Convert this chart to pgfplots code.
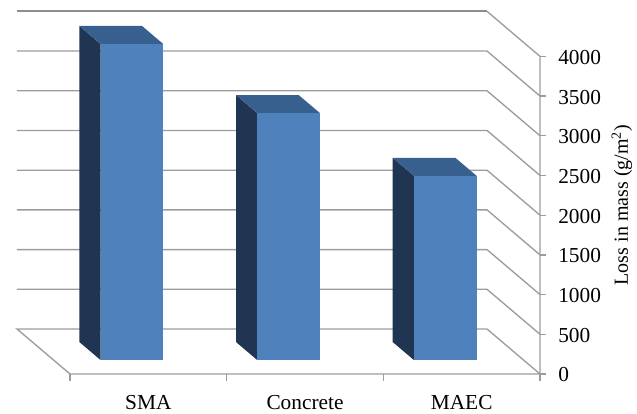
\documentclass[border=0pt]{standalone}
\usepackage{fontspec}
\setmainfont{Liberation Serif}
\usepackage{pgfplots}
\pgfplotsset{compat=1.18}
\definecolor{gridgrey}{HTML}{9C9C9C}
\definecolor{barfront}{HTML}{4F81BD}
\definecolor{bartop}{HTML}{38608F}
\definecolor{barside}{HTML}{1F3552}
\begin{document}
\begin{tikzpicture}[x=0.75pt,y=0.75pt]
\path[use as bounding box] (-70,-40) rectangle (567,374);
\begin{axis}[
  at={(0,0)}, anchor=origin,
  x={(117.5pt,0pt)},
  y={(-39.75pt,33.75pt)},
  z={(0pt,0.05955pt)},
  xmin=0, xmax=3.04, ymin=0, ymax=1, zmin=-90, zmax=4000,
  hide axis, clip=false,
  every axis plot/.append style={mark=none},
]
% back wall and right wall gridlines
\pgfplotsinvokeforeach{500,1000,1500,2000,2500,3000,3500}{
  \addplot3[gridgrey, line width=1pt] coordinates {(0,1,#1) (3,1,#1) (3,0,#1)};
}
\addplot3[gridgrey!90!black, line width=1.3pt] coordinates {(0,1,4000) (3,1,4000)};
\addplot3[gridgrey, line width=1pt] coordinates {(3,1,4000) (3,0,4000)};
% floor outline and vertical axis
\addplot3[gridgrey, line width=1pt] coordinates {(3,0,4000) (3,0,0) (0,0,0) (0,1,0) (3,1,0) (3,0,0)};
% value-axis ticks and labels
\pgfplotsinvokeforeach{0,500,1000,1500,2000,2500,3000,3500,4000}{
  \addplot3[gridgrey, line width=1pt] coordinates {(3,0,#1) (3.04,0,#1)};
  \node[anchor=west, inner sep=0pt, yshift=-0.75pt, font=\fontsize{16}{16}\selectfont] at (axis cs:3.115,0,#1) {#1};
}
% category ticks
\pgfplotsinvokeforeach{0,1,2,3}{
  \addplot3[gridgrey, line width=1pt] coordinates {(#1,0,0) (#1,0,-88)};
}
% bars: SMA 3980, Concrete 3110, MAEC 2320
\addplot3[fill=barside, draw=none] coordinates {(0.3,0.31,0) (0.3,0.71,0) (0.3,0.71,3980) (0.3,0.31,3980)} -- cycle;
\addplot3[fill=bartop, draw=none] coordinates {(0.3,0.31,3980) (0.3,0.71,3980) (0.7,0.71,3980) (0.7,0.31,3980)} -- cycle;
\addplot3[fill=barfront, draw=none] coordinates {(0.3,0.31,0) (0.7,0.31,0) (0.7,0.31,3980) (0.3,0.31,3980)} -- cycle;
\addplot3[fill=barside, draw=none] coordinates {(1.3,0.31,0) (1.3,0.71,0) (1.3,0.71,3110) (1.3,0.31,3110)} -- cycle;
\addplot3[fill=bartop, draw=none] coordinates {(1.3,0.31,3110) (1.3,0.71,3110) (1.7,0.71,3110) (1.7,0.31,3110)} -- cycle;
\addplot3[fill=barfront, draw=none] coordinates {(1.3,0.31,0) (1.7,0.31,0) (1.7,0.31,3110) (1.3,0.31,3110)} -- cycle;
\addplot3[fill=barside, draw=none] coordinates {(2.3,0.31,0) (2.3,0.71,0) (2.3,0.71,2320) (2.3,0.31,2320)} -- cycle;
\addplot3[fill=bartop, draw=none] coordinates {(2.3,0.31,2320) (2.3,0.71,2320) (2.7,0.71,2320) (2.7,0.31,2320)} -- cycle;
\addplot3[fill=barfront, draw=none] coordinates {(2.3,0.31,0) (2.7,0.31,0) (2.7,0.31,2320) (2.3,0.31,2320)} -- cycle;
% category names and value-axis title
\node[anchor=base, inner sep=0pt, font=\fontsize{16}{16}\selectfont] at (axis cs:0.5,0,-453) {SMA};
\node[anchor=base, inner sep=0pt, font=\fontsize{16}{16}\selectfont] at (axis cs:1.5,0,-453) {Concrete};
\node[anchor=base, inner sep=0pt, font=\fontsize{16}{16}\selectfont] at (axis cs:2.5,0,-453) {MAEC};
\node[rotate=90, inner sep=0pt, font=\fontsize{15}{15}\selectfont] at (axis cs:3.523,0,2128) {Loss in mass (g/m\textsuperscript{2})};
\end{axis}
\end{tikzpicture}
\end{document}
